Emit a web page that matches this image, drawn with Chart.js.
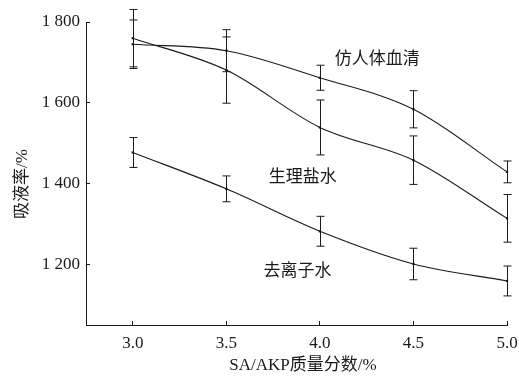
<!DOCTYPE html>
<html>
<head>
<meta charset="utf-8">
<script src="https://cdn.jsdelivr.net/npm/chart.js@4"></script>
<style>
  html, body { margin: 0; padding: 0; background: #fff; }
  #wrap { width: 519px; height: 376px; position: relative; }
</style>
</head>
<body>
<div id="wrap"><canvas id="c" width="519" height="376"></canvas></div>
<script>
// SA/AKP mass fraction (%)
const fractions = [3.0, 3.5, 4.0, 4.5, 5.0];

// Absorption rate (%) and standard deviations for each medium
const serumNames = ['仿人体血清', '生理盐水', '去离子水'];
const serumValues = [1745, 1729, 1662, 1584, 1429];
const serumErrors = [60, 52, 31, 46, 27];
const salineValues = [1760, 1681, 1539, 1458, 1314];
const salineErrors = [71, 82, 68, 60, 59];
const waterValues = [1477, 1387, 1282, 1201, 1159];
const waterErrors = [37, 32, 37, 39, 37];

const xTicks = [3.0, 3.5, 4.0, 4.5, 5.0];
const yTicks = [1200, 1400, 1600, 1800];

const serif = "'Liberation Serif', 'Times New Roman', 'Noto Sans CJK SC', serif";
const cjk = "'Noto Sans CJK SC', 'Liberation Serif', sans-serif";
const ink = '#1a1a1a';

function pts(vals) { return fractions.map((x, i) => ({ x, y: vals[i] })); }

function series(label, vals, errs) {
  return {
    label,
    data: pts(vals),
    errors: errs,
    borderColor: ink,
    backgroundColor: ink,
    borderWidth: 1.1,
    pointStyle: 'rect',
    pointRadius: 1.6,
    pointBorderWidth: 0,
    cubicInterpolationMode: 'monotone',
    clip: false
  };
}

// Vertical error bars with caps
const errorBars = {
  id: 'errorBars',
  afterDatasetsDraw(chart) {
    const { ctx, scales: { x, y } } = chart;
    ctx.save();
    ctx.strokeStyle = ink;
    ctx.lineWidth = 1;
    chart.data.datasets.forEach(ds => {
      ds.data.forEach((p, i) => {
        const e = ds.errors[i];
        const px = Math.round(x.getPixelForValue(p.x)) + 0.5;
        const top = y.getPixelForValue(p.y + e);
        const bot = y.getPixelForValue(p.y - e);
        ctx.beginPath();
        ctx.moveTo(px, top); ctx.lineTo(px, bot);
        ctx.moveTo(px - 4, top); ctx.lineTo(px + 4, top);
        ctx.moveTo(px - 4, bot); ctx.lineTo(px + 4, bot);
        ctx.stroke();
      });
    });
    ctx.restore();
  }
};

// Series names written beside their curves
const curveLabels = {
  id: 'curveLabels',
  afterDatasetsDraw(chart, args, opts) {
    const { ctx, scales: { x, y } } = chart;
    ctx.save();
    ctx.fillStyle = ink;
    ctx.font = '17px ' + cjk;
    ctx.textAlign = 'center';
    ctx.textBaseline = 'middle';
    opts.items.forEach(it => {
      ctx.fillText(it.text, x.getPixelForValue(it.x), y.getPixelForValue(it.y));
    });
    ctx.restore();
  }
};

new Chart(document.getElementById('c'), {
  type: 'line',
  data: {
    datasets: [
      series(serumNames[0], serumValues, serumErrors),
      series(serumNames[1], salineValues, salineErrors),
      series(serumNames[2], waterValues, waterErrors)
    ]
  },
  plugins: [errorBars, curveLabels],
  options: {
    responsive: false,
    animation: false,
    layout: { padding: { left: 0, right: 12, top: 22, bottom: 0 } },
    plugins: {
      legend: { display: false },
      tooltip: { enabled: false },
      curveLabels: {
        items: [
          { text: serumNames[0], x: 4.306, y: 1711 },
          { text: serumNames[1], x: 3.908, y: 1421 },
          { text: serumNames[2], x: 3.881, y: 1188 }
        ]
      }
    },
    scales: {
      x: {
        type: 'linear',
        min: 2.75,
        max: 5.0,
        afterBuildTicks: s => { s.ticks = xTicks.map(v => ({ value: v })); },
        afterFit: s => { s.height = 51; s.paddingLeft = 0; s.paddingRight = 0; },
        border: { display: true, color: ink, width: 1 },
        grid: { display: true, drawOnChartArea: false, drawTicks: true, tickLength: -4, color: ink, lineWidth: 1 },
        ticks: {
          color: ink,
          font: { family: serif, size: 17 },
          padding: 12,
          maxRotation: 0,
          callback: v => Number(v).toFixed(1)
        },
        title: {
          display: true,
          text: '\u2002 SA/AKP质量分数/%',
          color: ink,
          font: { family: serif, size: 17 },
          padding: { top: 0, bottom: 0 }
        }
      },
      y: {
        type: 'linear',
        min: 1050,
        max: 1800,
        afterBuildTicks: s => { s.ticks = yTicks.map(v => ({ value: v })); },
        afterFit: s => { s.width = 86; s.paddingTop = 0; s.paddingBottom = 0; },
        border: { display: true, color: ink, width: 1 },
        grid: { display: true, drawOnChartArea: false, drawTicks: true, tickLength: -4, color: ink, lineWidth: 1 },
        ticks: {
          color: ink,
          font: { family: serif, size: 17 },
          padding: 10,
          callback: v => {
            const s = String(v);
            return s.slice(0, s.length - 3) + ' ' + s.slice(-3);
          }
        },
        title: {
          display: true,
          text: '吸液率/%\u2003 ',
          color: ink,
          font: { family: serif, size: 17 },
          padding: { top: 12, bottom: 0 }
        }
      }
    }
  }
});
</script>
</body>
</html>
